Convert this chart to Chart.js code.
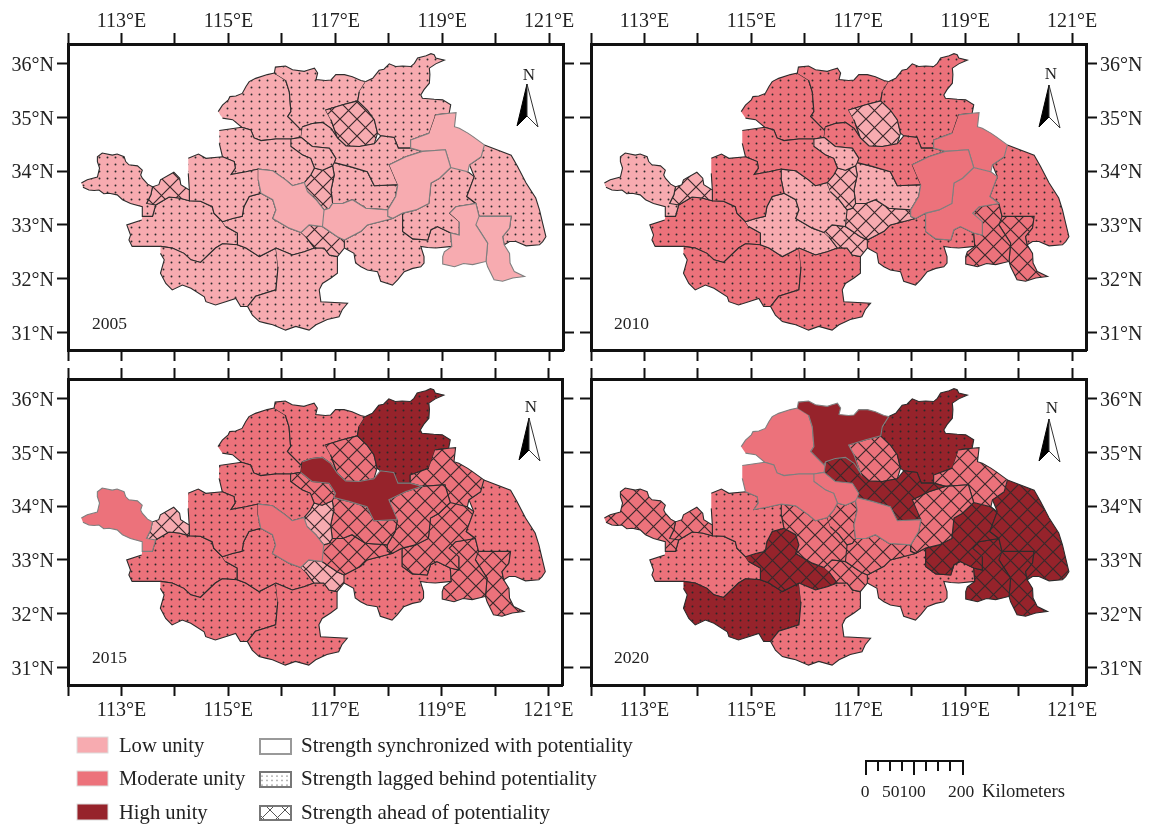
<!DOCTYPE html>
<html><head><meta charset="utf-8">
<style>
html,body{margin:0;padding:0;background:#fff;width:1151px;height:825px;overflow:hidden}
canvas{position:absolute}
svg{position:absolute;left:0;top:0;pointer-events:none}
svg text{font-family:"Liberation Serif",serif;fill:#222}
</style>
<script src="https://cdn.jsdelivr.net/npm/chart.js@4"></script>
</head><body>
<canvas id="c2005" width="577" height="364" style="left:0;top:0"></canvas>
<canvas id="c2010" width="574" height="364" style="left:577px;top:0"></canvas>
<canvas id="c2015" width="577" height="355" style="left:0;top:365px"></canvas>
<canvas id="c2020" width="574" height="355" style="left:577px;top:365px"></canvas>
<svg width="1151" height="825" xmlns="http://www.w3.org/2000/svg">
<defs>
<pattern id="ld" width="5" height="4.5" patternUnits="userSpaceOnUse"><circle cx="2" cy="2" r="0.7" fill="#555"/></pattern>
<pattern id="lh" width="15" height="15" patternUnits="userSpaceOnUse"><path d="M0 0L15 15M15 0L0 15" stroke="#555" stroke-width="1"/></pattern>
<g id="arrow"><path d="M10 0L0 42L10 32Z" fill="#000" stroke="#000" stroke-width="1"/><path d="M10 0L21 43L10 32Z" fill="#fff" stroke="#333" stroke-width="1"/></g>
</defs>
<text x="529" y="80" font-size="17" text-anchor="middle">N</text><use href="#arrow" x="517" y="84"/>
<text x="1051" y="79" font-size="17" text-anchor="middle">N</text><use href="#arrow" x="1039" y="85"/>
<text x="531" y="412" font-size="17" text-anchor="middle">N</text><use href="#arrow" x="519" y="418"/>
<text x="1052" y="413" font-size="17" text-anchor="middle">N</text><use href="#arrow" x="1039" y="419"/>
<text x="92" y="329" font-size="17.5">2005</text>
<text x="614" y="329" font-size="17.5">2010</text>
<text x="92" y="663" font-size="17.5">2015</text>
<text x="614" y="663" font-size="17.5">2020</text>
<rect x="77" y="737" width="31" height="16" fill="#F7ABB0" stroke="#ddd"/>
<rect x="77" y="771" width="31" height="15" fill="#EC727B" stroke="#ddd"/>
<rect x="77" y="804" width="31" height="16" fill="#96232B" stroke="#ddd"/>
<text x="119" y="752" font-size="20.6">Low unity</text>
<text x="119" y="785" font-size="20.6">Moderate unity</text>
<text x="119" y="819" font-size="20.6">High unity</text>
<rect x="260" y="739" width="31" height="15" fill="#fff" stroke="#999" stroke-width="2"/>
<rect x="260" y="772" width="31" height="15" fill="url(#ld)" stroke="#777" stroke-width="2"/>
<rect x="260" y="806" width="31" height="14" fill="url(#lh)" stroke="#777" stroke-width="2"/>
<text x="301" y="752" font-size="21">Strength synchronized with potentiality</text>
<text x="301" y="785" font-size="21">Strength lagged behind potentiality</text>
<text x="301" y="819" font-size="21">Strength ahead of potentiality</text>
<path d="M866 775V761H963V775M878 761V771M890 761V771M902 761V771M914 775V761M926 761V771M938 761V771M950 761V771" fill="none" stroke="#111" stroke-width="2"/>
<text x="865" y="797" font-size="17.5" text-anchor="middle">0</text>
<text x="882" y="797" font-size="17.5">50100</text>
<text x="948" y="797" font-size="17.5">200</text>
<text x="982" y="797" font-size="18.7">Kilometers</text>
</svg>
<script>
// Region outlines: [lon, lat, lon, lat, ...]
const pingdingshan=[112.25,33.78,112.30,33.81,112.36,33.84,112.55,33.89,112.59,34.06,112.55,34.18,112.55,34.27,112.64,34.34,112.83,34.30,112.92,34.32,113.05,34.27,113.08,34.18,113.14,34.12,113.30,34.10,113.39,34.02,113.36,33.93,113.39,33.87,113.49,33.76,113.58,33.71,113.55,33.56,113.47,33.40,113.64,33.37,113.58,33.16,113.39,33.16,113.39,33.34,113.17,33.40,113.02,33.47,112.92,33.56,112.77,33.59,112.67,33.58,112.58,33.65,112.49,33.64,112.39,33.65,112.28,33.70];
const luohe=[113.47,33.40,113.55,33.56,113.58,33.71,113.70,33.75,113.73,33.84,113.98,33.98,114.09,33.87,114.11,33.75,114.27,33.65,114.27,33.45,114.08,33.50,113.89,33.52,113.64,33.37];
const zhoukou=[114.25,34.24,114.44,34.32,114.58,34.24,114.89,34.27,115.11,34.18,115.13,34.06,115.05,33.94,115.33,33.99,115.56,34.04,115.56,33.84,115.61,33.59,115.39,33.53,115.29,33.34,115.26,33.16,115.08,33.12,114.89,33.06,114.73,33.22,114.70,33.34,114.48,33.44,114.27,33.45,114.27,33.65,114.25,33.96];
const kaifeng=[114.83,34.76,115.25,34.82,115.42,34.77,115.48,34.62,115.61,34.57,115.89,34.60,116.17,34.60,116.17,34.46,116.39,34.30,116.54,34.24,116.61,34.06,116.54,33.93,116.42,33.79,116.20,33.73,116.07,33.84,115.83,34.01,115.56,34.04,115.33,33.99,115.05,33.94,115.13,34.06,115.11,34.18,114.89,34.27,114.83,34.52];
const shangqiu=[116.17,34.60,116.36,34.63,116.57,34.46,116.89,34.43,117.01,34.24,116.98,34.16,116.95,34.10,116.76,34.02,116.61,34.06,116.54,34.24,116.39,34.30,116.17,34.46];
const huaibei=[116.42,33.79,116.54,33.93,116.61,34.06,116.76,34.02,116.95,34.10,116.98,33.93,116.92,33.65,116.95,33.40,116.89,33.31,116.79,33.28,116.64,33.47,116.48,33.62];
const bozhou=[115.56,34.04,115.83,34.01,116.07,33.84,116.20,33.73,116.42,33.79,116.48,33.62,116.64,33.47,116.79,33.28,116.76,32.97,116.51,33.00,116.36,32.86,116.14,32.94,115.83,33.12,115.89,33.28,115.83,33.47,115.61,33.59,115.56,33.84];
const xuzhou=[116.39,34.83,116.57,34.89,116.76,34.91,116.92,34.80,117.04,34.62,117.20,34.47,117.45,34.46,117.73,34.51,117.85,34.66,118.10,34.63,118.18,34.43,118.41,34.43,118.63,34.37,118.32,34.27,118.01,34.12,118.17,33.75,117.73,33.73,117.60,33.99,117.26,34.09,116.98,34.16,117.01,34.24,116.89,34.43,116.57,34.46,116.36,34.63];
const suzhou=[116.98,34.16,117.26,34.09,117.60,33.99,117.73,33.73,118.17,33.75,118.13,33.53,117.98,33.28,117.57,33.31,117.32,33.47,117.14,33.40,116.95,33.40,116.92,33.65,116.98,33.93,116.95,34.10];
const bengbu=[116.79,33.28,116.89,33.31,116.95,33.40,117.14,33.40,117.32,33.47,117.57,33.31,117.98,33.28,117.98,33.16,118.07,33.12,117.60,33.00,117.48,32.88,117.17,32.72,117.04,32.78,116.76,32.97];
const huainan=[116.36,32.86,116.51,33.00,116.76,32.97,117.04,32.78,117.17,32.72,117.17,32.57,117.04,32.41,116.89,32.44,116.79,32.57,116.61,32.57,116.45,32.78];
const suqian=[118.01,34.12,118.32,34.27,118.63,34.37,119.06,34.40,119.16,34.07,118.95,33.87,118.79,33.78,118.75,33.40,118.51,33.28,118.26,33.22,118.07,33.12,117.98,33.16,117.98,33.28,118.13,33.53,118.17,33.75];
const lianyungang=[118.88,35.05,119.13,35.08,119.26,35.09,119.23,34.83,119.32,34.80,119.48,34.71,119.57,34.65,119.79,34.49,119.73,34.27,119.51,34.12,119.48,33.99,119.16,34.07,119.06,34.40,118.63,34.37,118.41,34.43,118.41,34.58,118.76,34.71];
const linyi=[117.57,35.67,117.70,35.73,117.82,35.88,117.91,35.90,118.01,36.00,118.13,35.95,118.26,35.96,118.41,35.95,118.48,36.01,118.54,36.11,118.70,36.15,118.79,36.19,118.85,36.17,118.88,36.11,119.04,36.07,118.88,36.00,118.76,35.92,118.77,35.80,118.76,35.64,118.66,35.52,118.60,35.42,118.63,35.36,118.85,35.34,119.01,35.33,119.16,35.24,119.13,35.08,118.88,35.05,118.76,34.71,118.41,34.58,118.41,34.43,118.18,34.43,118.10,34.63,117.85,34.66,117.79,34.71,117.73,34.96,117.60,35.14,117.42,35.31,117.45,35.48];
const zaozhuang=[116.82,35.14,117.14,35.24,117.42,35.31,117.60,35.14,117.73,34.96,117.79,34.71,117.73,34.51,117.45,34.46,117.20,34.47,117.04,34.62,116.92,34.96];
const jining=[115.86,35.83,115.88,35.94,116.07,35.96,116.20,35.89,116.42,35.86,116.48,35.88,116.61,35.92,116.67,35.83,116.64,35.71,116.82,35.69,116.92,35.70,117.01,35.80,117.17,35.80,117.32,35.76,117.48,35.69,117.57,35.67,117.45,35.48,117.42,35.31,117.14,35.24,116.82,35.14,116.92,34.96,117.04,34.62,116.92,34.80,116.76,34.91,116.57,34.89,116.39,34.83,116.36,34.77,116.11,35.02,116.17,35.11,116.14,35.48,116.07,35.70];
const heze=[114.81,35.11,114.89,35.23,115.00,35.33,115.03,35.39,115.14,35.40,115.26,35.45,115.33,35.58,115.39,35.67,115.51,35.73,115.73,35.80,115.86,35.83,116.07,35.70,116.14,35.48,116.17,35.11,116.11,35.02,116.36,34.77,116.39,34.83,116.36,34.63,116.17,34.60,115.89,34.60,115.61,34.57,115.48,34.62,115.42,34.77,115.25,34.82,115.08,34.96,114.89,34.99];
const yancheng=[119.79,34.49,120.29,34.30,120.41,34.09,120.57,33.78,120.75,33.50,120.82,33.28,120.88,33.03,120.94,32.78,120.88,32.69,120.82,32.63,120.57,32.61,120.38,32.69,120.26,32.69,120.16,32.63,120.13,32.78,120.26,32.94,120.29,33.16,119.69,33.16,119.63,33.40,119.46,33.53,119.60,33.90,119.51,34.12,119.73,34.27];
const huaian=[119.48,33.99,119.60,33.90,119.46,33.53,119.63,33.40,119.26,33.34,119.14,33.22,119.32,33.06,119.32,32.81,119.16,32.85,118.91,32.97,118.79,32.91,118.73,32.72,118.45,32.74,118.26,32.88,118.26,33.22,118.51,33.28,118.75,33.40,118.79,33.78,118.95,33.87,119.16,34.07];
const yangzhou=[119.14,33.22,119.26,33.34,119.63,33.40,119.69,33.16,119.63,33.00,119.85,32.66,119.82,32.32,119.57,32.26,119.40,32.28,119.23,32.22,119.01,32.27,119.01,32.41,119.04,32.50,119.18,32.60,119.16,32.85,119.32,32.81,119.32,33.06];
const taizhou=[119.69,33.16,120.29,33.16,120.26,32.94,120.13,32.78,120.16,32.63,120.26,32.47,120.27,32.29,120.35,32.13,120.54,32.04,120.32,32.01,120.13,31.95,119.97,31.98,119.91,32.10,119.85,32.22,119.82,32.32,119.85,32.66,119.63,33.00];
const chuzhou=[117.17,32.72,117.48,32.88,117.60,33.00,118.07,33.12,118.26,33.22,118.26,32.88,118.45,32.74,118.73,32.72,118.79,32.91,118.91,32.97,119.16,32.85,119.18,32.60,118.88,32.57,118.73,32.58,118.60,32.60,118.66,32.41,118.66,32.29,118.60,32.22,118.45,32.19,118.29,32.13,118.17,31.98,118.07,31.88,117.85,31.95,117.79,32.13,117.60,32.16,117.48,32.22,117.38,32.29,117.35,32.47,117.17,32.57];
const luan=[115.89,32.57,116.20,32.44,116.42,32.50,116.61,32.57,116.79,32.57,116.89,32.44,117.04,32.41,117.04,32.10,116.92,32.01,116.76,31.91,116.70,31.79,116.73,31.57,117.23,31.54,117.13,31.42,117.07,31.29,116.85,31.24,116.64,31.14,116.51,31.04,116.26,31.11,116.07,31.04,115.83,31.14,115.70,31.17,115.58,31.20,115.45,31.32,115.36,31.48,115.51,31.67,115.89,31.79,115.93,32.22];
const fuyang=[114.89,33.06,115.08,33.12,115.26,33.16,115.29,33.34,115.39,33.53,115.61,33.59,115.83,33.47,115.89,33.28,115.83,33.12,116.14,32.94,116.36,32.86,116.45,32.78,116.61,32.57,116.42,32.50,116.20,32.44,115.89,32.57,115.58,32.41,115.33,32.57,115.17,32.63,115.17,32.85,114.95,32.97];
const xinyang=[113.73,32.60,113.95,32.57,114.17,32.47,114.30,32.35,114.48,32.30,114.76,32.57,114.89,32.65,115.17,32.63,115.33,32.57,115.58,32.41,115.89,32.57,115.93,32.22,115.89,31.79,115.51,31.67,115.36,31.48,115.23,31.48,115.14,31.63,114.95,31.57,114.76,31.51,114.58,31.57,114.55,31.66,114.30,31.82,114.14,31.88,113.95,31.79,113.83,31.91,113.73,32.10,113.80,32.35,113.73,32.47];
const zhumadian=[113.39,33.16,113.58,33.16,113.64,33.37,113.89,33.52,114.08,33.50,114.27,33.45,114.48,33.44,114.70,33.34,114.73,33.22,114.89,33.06,114.95,32.97,115.17,32.85,115.17,32.63,114.89,32.65,114.76,32.57,114.48,32.30,114.30,32.35,114.17,32.47,113.95,32.57,113.73,32.60,113.20,32.60,113.14,32.72,113.17,32.81,113.10,33.00,113.38,33.09];

const regionNames=['Pingdingshan','Luohe','Zhoukou','Kaifeng','Shangqiu','Huaibei','Bozhou','Xuzhou','Suzhou','Bengbu','Huainan','Suqian','Lianyungang','Linyi','Zaozhuang','Jining','Heze','Yancheng',"Huai'an",'Yangzhou','Taizhou','Chuzhou',"Lu'an",'Fuyang','Xinyang','Zhumadian'];
const regionShapes=[pingdingshan,luohe,zhoukou,kaifeng,shangqiu,huaibei,bozhou,xuzhou,suzhou,bengbu,huainan,suqian,lianyungang,linyi,zaozhuang,jining,heze,yancheng,huaian,yangzhou,taizhou,chuzhou,luan,fuyang,xinyang,zhumadian];

// Unity level per region: L low, M moderate, H high
const unity2005=['L','L','L','L','L','L','L','L','L','L','L','L','L','L','L','L','L','L','L','L','L','L','L','L','L','L'];
const unity2010=['L','L','M','M','L','L','L','M','L','L','L','M','M','M','L','M','M','M','M','M','M','M','M','L','M','M'];
const unity2015=['M','L','M','M','M','L','M','H','M','M','L','M','M','H','M','M','M','M','M','M','M','M','M','M','M','M'];
const unity2020=['M','M','M','M','M','M','M','H','M','M','M','M','M','H','M','H','M','H','H','H','H','M','M','H','H','M'];
// Strength vs potentiality: s synchronized, g lagged, a ahead
const balance2005=['g','a','g','g','g','a','s','g','g','s','a','s','s','g','a','g','g','g','g','s','s','g','g','g','g','g'];
const balance2010=['g','a','g','g','g','a','g','g','g','a','a','s','s','g','a','g','g','g','s','a','a','g','g','g','g','g'];
const balance2015=['s','a','g','g','a','a','s','s','a','a','a','a','a','g','a','g','g','g','a','a','a','g','g','g','g','g'];
const balance2020=['a','a','g','s','s','a','a','a','s','a','a','a','a','g','a','s','s','a','a','a','a','g','g','a','g','g'];

const panels=[
 {id:'c2005',unity:unity2005,balance:balance2005,top:true,left:true,lm:68,rm:14,tm:44,bm:14},
 {id:'c2010',unity:unity2010,balance:balance2010,top:true,left:false,lm:14,rm:65,tm:44,bm:14},
 {id:'c2015',unity:unity2015,balance:balance2015,top:false,left:true,lm:68,rm:14,tm:14,bm:35},
 {id:'c2020',unity:unity2020,balance:balance2020,top:false,left:false,lm:14,rm:65,tm:14,bm:35}
];
const lonMin=112,lonMax=121.26,latMin=30.67,latMax=36.37;
const levelColors={L:'#F7ABB0',M:'#EC727B',H:'#96232B'};

function tile(level,kind){
  const w=kind==='g'?8:17, h=kind==='g'?7:17;
  const t=document.createElement('canvas');t.width=w;t.height=h;
  const x=t.getContext('2d');
  x.fillStyle=levelColors[level];x.fillRect(0,0,w,h);
  if(kind==='g'){x.fillStyle='#2a2a2a';x.beginPath();x.arc(3.5,3.5,0.95,0,7);x.fill();}
  if(kind==='a'){x.strokeStyle='#3a2a2c';x.lineWidth=1.2;x.beginPath();
    x.moveTo(-1,-1);x.lineTo(w+1,h+1);x.moveTo(w+1,-1);x.lineTo(-1,h+1);x.stroke();}
  return document.createElement('canvas').getContext('2d').createPattern(t,'repeat');
}
const closeLoops={id:'closeLoops',beforeDatasetsDraw(chart){
  chart.getSortedVisibleDatasetMetas().forEach(m=>{if(m.dataset){m.dataset._loop=true;m.dataset._segments=undefined;}});
}};
function axis(pos,min,max,showLabels,unit,size){
  const horizontal=pos==='top'||pos==='bottom';
  return {type:'linear',position:pos,min,max,display:true,
    afterFit(s){if(horizontal)s.height=size;else s.width=size;},
    border:{display:true,color:'#111',width:3},
    grid:{drawOnChartArea:false,drawTicks:true,tickLength:11,tickWidth:2,tickColor:'#111'},
    ticks:{display:showLabels,stepSize:1,includeBounds:false,autoSkip:false,maxRotation:0,minRotation:0,
      padding:pos==='top'?-1:3,color:'#222',
      font:{family:'"Liberation Serif",serif',size:20,lineHeight:horizontal?1.2:0.2},
      callback:v=>horizontal?(v%2===1?v+'°'+unit:''):['',v+'°'+unit]}};
}
panels.forEach(p=>{
  new Chart(document.getElementById(p.id),{
    type:'scatter',
    data:{datasets:regionShapes.map((shape,i)=>{
      const pts=[];for(let k=0;k<shape.length;k+=2)pts.push({x:shape[k],y:shape[k+1]});
      const kind=p.balance[i];
      return {label:regionNames[i],data:pts,showLine:true,fill:'shape',pointRadius:0,borderWidth:1.1,tension:0,
        xAxisID:'x',yAxisID:'y',order:kind==='s'?0:1,
        backgroundColor:kind==='s'?levelColors[p.unity[i]]:tile(p.unity[i],kind),
        borderColor:kind==='s'?'#7f7f7f':'#2c2c2c'};
    })},
    options:{responsive:false,animation:false,events:[],layout:{padding:0},
      plugins:{legend:{display:false},tooltip:{enabled:false},title:{display:false}},
      scales:{
        x:axis('top',lonMin,lonMax,p.top,'E',p.tm),
        x2:axis('bottom',lonMin,lonMax,!p.top,'E',p.bm),
        y:axis('left',latMin,latMax,p.left,'N',p.lm),
        y2:axis('right',latMin,latMax,!p.left,'N',p.rm)
      }},
    plugins:[closeLoops]
  });
});
</script>
</body></html>
